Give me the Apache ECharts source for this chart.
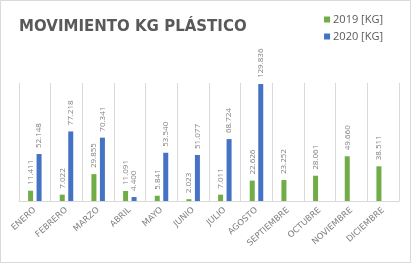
<!DOCTYPE html>
<html>
<head>
    <meta charset="utf-8">
    <title>Movimiento KG Plástico</title>
    <script src="https://cdn.jsdelivr.net/npm/echarts@6/dist/echarts.min.js"></script>
    <style>
        body { margin: 0; background: #fff; }
    </style>
</head>
<body>
    <div id="main" style="width: 412px;height:264px;"></div>
    <script type="text/javascript">
        var meses = ['ENERO', 'FEBRERO', 'MARZO', 'ABRIL', 'MAYO', 'JUNIO', 'JULIO',
                     'AGOSTO', 'SEPTIEMBRE', 'OCTUBRE', 'NOVIEMBRE', 'DICIEMBRE'];
        var kg2019 = [11411, 7022, 29855, 11091, 5841, 2023, 7011, 22626, 23252, 28061, 49660, 38511];
        var kg2020 = [52148, 77218, 70341, 4400, 53540, 51077, 68724, 129836, null, null, null, null];

        var myChart = echarts.init(document.getElementById('main'));

        function miles(v) {
            return String(v).replace(/\B(?=(\d{3})+(?!\d))/g, '.');
        }

        var etiqueta = {
            show: true,
            position: 'top',
            rotate: 90,
            align: 'left',
            verticalAlign: 'middle',
            distance: 6,
            color: '#7f7f7f',
            fontSize: 8,
            fontFamily: 'Open Sans',
            formatter: function (p) { return miles(p.value); }
        };

        var option = {
            animation: false,
            title: {
                text: 'MOVIMIENTO KG PLÁSTICO',
                left: 14,
                top: 15,
                textStyle: { color: '#595959', fontSize: 15, fontWeight: 'bold', fontFamily: 'DejaVu Sans' }
            },
            legend: {
                orient: 'vertical',
                right: 24,
                top: 9,
                itemWidth: 6,
                itemHeight: 6,
                itemGap: 6,
                icon: 'rect',
                textStyle: { color: '#595959', fontSize: 11, fontFamily: 'Open Sans', padding: [0, 0, 0, -2] },
                data: ['2019 [KG]', '2020 [KG]']
            },
            graphic: [{
                type: 'rect',
                shape: { x: 0.5, y: 0.5, width: 410, height: 262 },
                style: { fill: null, stroke: '#d9d9d9', lineWidth: 1 }
            }],
            grid: { left: 19, right: 13, top: 83, bottom: 63 },
            xAxis: {
                type: 'category',
                data: meses,
                axisTick: { show: false },
                axisLine: { lineStyle: { color: '#d9d9d9' } },
                splitLine: { show: true, lineStyle: { color: '#d9d9d9' } },
                axisLabel: {
                    interval: 0,
                    rotate: 42,
                    margin: 8,
                    color: '#7f7f7f',
                    fontSize: 8.5,
                    fontFamily: 'DejaVu Sans'
                }
            },
            yAxis: {
                type: 'value',
                min: 0,
                max: 131000,
                show: false
            },
            series: [
                {
                    name: '2019 [KG]',
                    type: 'bar',
                    data: kg2019,
                    barWidth: 5,
                    barGap: '70%',
                    itemStyle: { color: '#70ad47' },
                    label: etiqueta
                },
                {
                    name: '2020 [KG]',
                    type: 'bar',
                    data: kg2020,
                    barWidth: 5,
                    itemStyle: { color: '#4472c4' },
                    label: etiqueta
                }
            ]
        };
        myChart.setOption(option);
    </script>
</body>
</html>
